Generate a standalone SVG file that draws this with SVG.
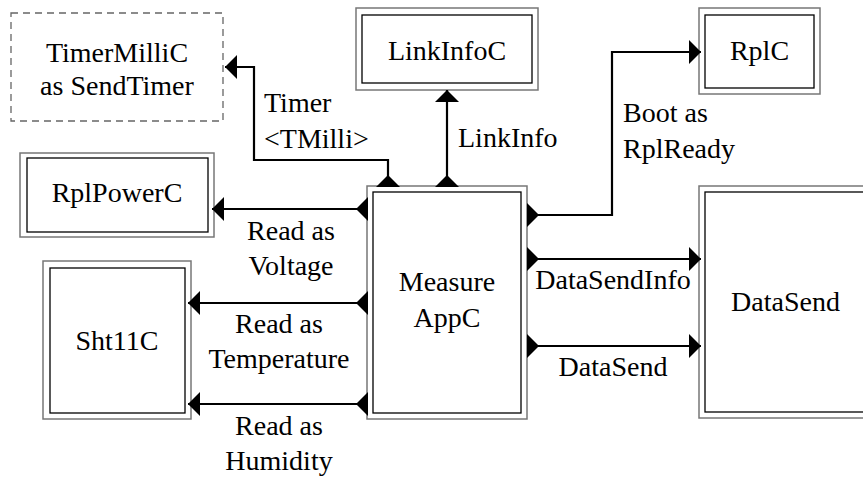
<svg xmlns="http://www.w3.org/2000/svg" width="863" height="480" viewBox="0 0 863 480">
<style>
  text { font-family: "Liberation Serif", "Times New Roman", serif; font-size: 28px; fill: #000; }
  .mid { text-anchor: middle; }
  .outer { fill: #fff; stroke: #777; stroke-width: 1.5; }
  .inner { fill: none; stroke: #000; stroke-width: 1.3; }
  .dashed { fill: #fff; stroke: #666; stroke-width: 1.3; stroke-dasharray: 7 5; }
  .conn { fill: none; stroke: #000; stroke-width: 2.2; }
</style>
<defs>
  <marker id="endArrow" viewBox="0 0 12 24" refX="12" refY="12" markerWidth="12" markerHeight="24" markerUnits="userSpaceOnUse" orient="auto">
    <path d="M0,0 L12,12 L0,24 z" fill="#000"/>
  </marker>
  <marker id="startArrow" viewBox="0 0 12 24" refX="0" refY="12" markerWidth="12" markerHeight="24" markerUnits="userSpaceOnUse" orient="auto">
    <path d="M0,0 L12,12 L0,24 z" fill="#000"/>
  </marker>
</defs>
<rect width="863" height="480" fill="#fff"/>

<g id="TimerMilliC">
  <rect class="dashed" x="11" y="13" width="212" height="108"/>
  <text class="mid" x="117" y="62" font-family="Liberation Serif, serif">TimerMilliC</text>
  <text class="mid" x="117" y="95" font-family="Liberation Serif, serif">as SendTimer</text>
</g>
<g id="LinkInfoC">
  <rect class="outer" x="356" y="8" width="182" height="82"/>
  <rect class="inner" x="362" y="15" width="170" height="68"/>
  <text class="mid" x="447" y="60" font-family="Liberation Serif, serif">LinkInfoC</text>
</g>
<g id="RplC">
  <rect class="outer" x="699" y="8" width="121" height="86"/>
  <rect class="inner" x="705" y="15" width="109" height="73"/>
  <text class="mid" x="759.5" y="60" font-family="Liberation Serif, serif">RplC</text>
</g>
<g id="RplPowerC">
  <rect class="outer" x="20" y="153" width="194" height="84"/>
  <rect class="inner" x="27" y="158" width="181" height="74"/>
  <text class="mid" x="117" y="202" font-family="Liberation Serif, serif">RplPowerC</text>
</g>
<g id="Sht11C">
  <rect class="outer" x="43" y="261" width="148" height="158"/>
  <rect class="inner" x="50" y="268" width="135" height="145"/>
  <text class="mid" x="117" y="350" font-family="Liberation Serif, serif">Sht11C</text>
</g>
<g id="MeasureAppC">
  <rect class="outer" x="367" y="186" width="160" height="233"/>
  <rect class="inner" x="373" y="192" width="148" height="221"/>
  <text class="mid" x="447" y="291" font-family="Liberation Serif, serif">Measure</text>
  <text class="mid" x="447" y="327" font-family="Liberation Serif, serif">AppC</text>
</g>
<g id="DataSendNode">
  <rect class="outer" x="699" y="186" width="174" height="232"/>
  <rect class="inner" x="705" y="192" width="162" height="220"/>
  <text class="mid" x="785.5" y="311" font-family="Liberation Serif, serif">DataSend</text>
</g>

<g id="connectors" marker-start="url(#startArrow)" marker-end="url(#endArrow)">
  <path class="conn" d="M388,187 V160 H254 V67 H225" marker-start="url(#startArrow)" marker-end="url(#endArrow)"/>
  <path class="conn" d="M447,187 V90" marker-start="url(#startArrow)" marker-end="url(#endArrow)"/>
  <path class="conn" d="M527,215 H612 V52 H701" marker-start="url(#startArrow)" marker-end="url(#endArrow)"/>
  <path class="conn" d="M527,259 H701" marker-start="url(#startArrow)" marker-end="url(#endArrow)"/>
  <path class="conn" d="M527,346 H701" marker-start="url(#startArrow)" marker-end="url(#endArrow)"/>
  <path class="conn" d="M368,209 H212" marker-start="url(#startArrow)" marker-end="url(#endArrow)"/>
  <path class="conn" d="M368,303 H188" marker-start="url(#startArrow)" marker-end="url(#endArrow)"/>
  <path class="conn" d="M368,404 H188" marker-start="url(#startArrow)" marker-end="url(#endArrow)"/>
</g>

<g id="labels" font-family="Liberation Serif, serif">
  <text x="264" y="112">Timer</text>
  <text x="264" y="148">&lt;TMilli&gt;</text>
  <text x="458" y="147">LinkInfo</text>
  <text x="623" y="122">Boot as</text>
  <text x="623" y="158">RplReady</text>
  <text class="mid" x="291" y="240">Read as</text>
  <text class="mid" x="291" y="275">Voltage</text>
  <text class="mid" x="279" y="333">Read as</text>
  <text class="mid" x="279" y="368">Temperature</text>
  <text class="mid" x="279" y="435">Read as</text>
  <text class="mid" x="279" y="470">Humidity</text>
  <text class="mid" x="613" y="289">DataSendInfo</text>
  <text class="mid" x="613" y="376">DataSend</text>
</g>
</svg>
